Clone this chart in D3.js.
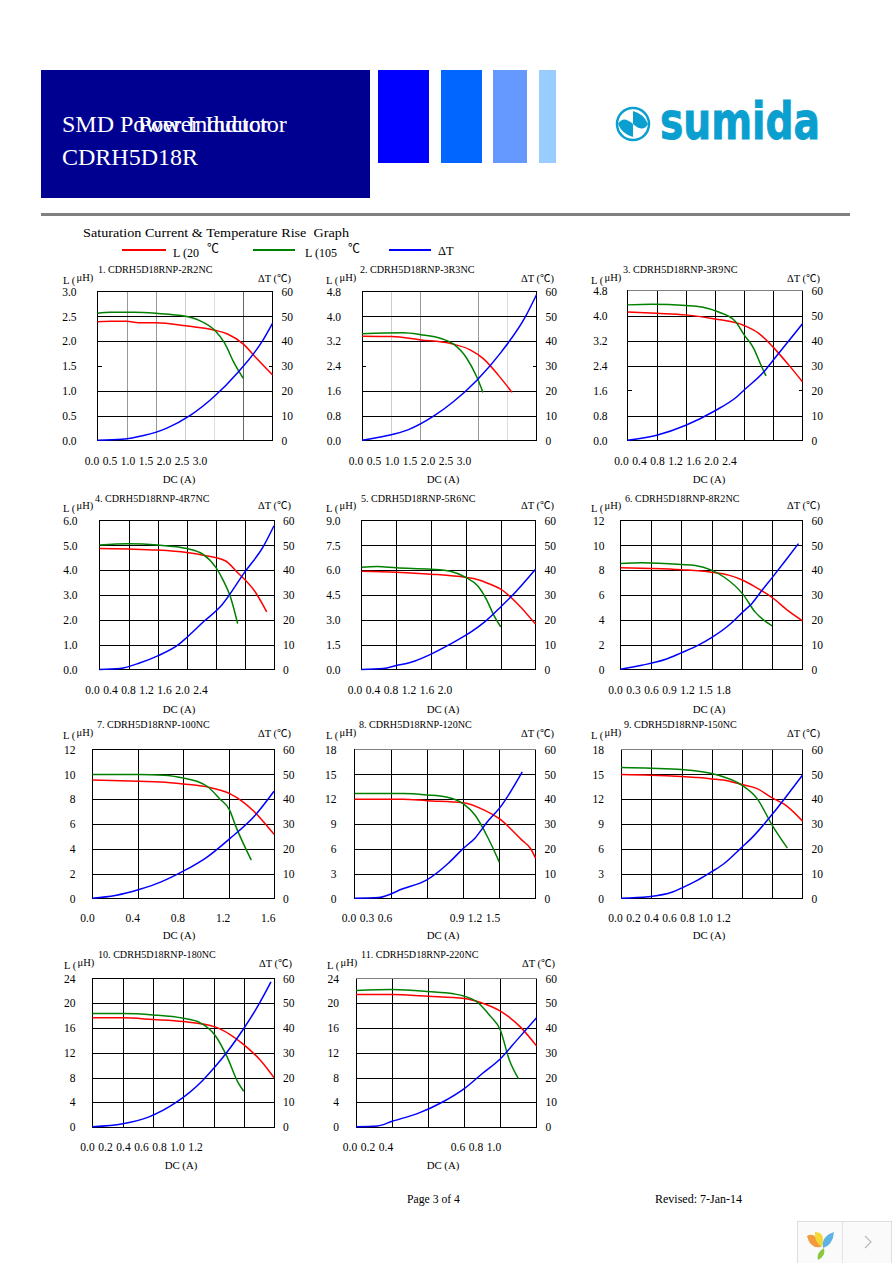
<!DOCTYPE html>
<html>
<head>
<meta charset="utf-8">
<title>CDRH5D18R</title>
<script src="https://cdn.jsdelivr.net/npm/d3@7"></script>
<style>
  html, body { margin: 0; padding: 0; background: #fff; }
  svg { display: block; }
  text { font-family: "Liberation Serif", "Noto Sans CJK SC", serif; fill: #000; }
  .domain { display: none; }
</style>
</head>
<body>
<svg></svg>
<script>
// values: [current A, value]
let titles = ['1. CDRH5D18RNP-2R2NC', '2. CDRH5D18RNP-3R3NC', '3. CDRH5D18RNP-3R9NC', '4. CDRH5D18RNP-4R7NC',
  '5. CDRH5D18RNP-5R6NC', '6. CDRH5D18RNP-8R2NC', '7. CDRH5D18RNP-100NC', '8. CDRH5D18RNP-120NC',
  '9. CDRH5D18RNP-150NC', '10. CDRH5D18RNP-180NC', '11. CDRH5D18RNP-220NC']

let xTicks = [
  [0, .5, 1, 1.5, 2, 2.5, 3], [0, .5, 1, 1.5, 2, 2.5, 3], [0, .4, .8, 1.2, 1.6, 2, 2.4], [0, .4, .8, 1.2, 1.6, 2, 2.4],
  [0, .4, .8, 1.2, 1.6, 2], [0, .3, .6, .9, 1.2, 1.5, 1.8], [0, .4, .8, 1.2, 1.6], [0, .3, .6, .9, 1.2, 1.5],
  [0, .2, .4, .6, .8, 1, 1.2], [0, .2, .4, .6, .8, 1, 1.2], [0, .2, .4, .6, .8, 1]
]
let yTicks = [
  [0, .5, 1, 1.5, 2, 2.5, 3], [0, .8, 1.6, 2.4, 3.2, 4, 4.8], [0, .8, 1.6, 2.4, 3.2, 4, 4.8], [0, 1, 2, 3, 4, 5, 6],
  [0, 1.5, 3, 4.5, 6, 7.5, 9], [0, 2, 4, 6, 8, 10, 12], [0, 2, 4, 6, 8, 10, 12], [0, 3, 6, 9, 12, 15, 18],
  [0, 3, 6, 9, 12, 15, 18], [0, 4, 8, 12, 16, 20, 24], [0, 4, 8, 12, 16, 20, 24]
]
let yDecimals = [1, 1, 1, 1, 1, 0, 0, 0, 0, 0, 0]
let tempTicks = [0, 10, 20, 30, 40, 50, 60]

let lowTemp = [
  [[0,2.39],[.22,2.40],[.5,2.40],[.7,2.37],[1,2.37],[1.51,2.31],[2.01,2.22],[2.22,2.15],[2.5,1.94],[2.73,1.65],[3,1.32]],
  [[0,3.36],[.51,3.35],[1.01,3.24],[1.51,3.13],[1.86,2.92],[2.09,2.63],[2.35,2.09],[2.58,1.55]],
  [[0,4.11],[.4,4.07],[.8,4.02],[1.2,3.89],[1.6,3.68],[1.8,3.43],[2,2.98],[2.21,2.42],[2.4,1.88]],
  [[0,4.87],[.4,4.85],[.8,4.81],[1.2,4.71],[1.43,4.6],[1.73,4.38],[1.89,3.93],[2.14,3.13],[2.3,2.32]],
  [[0,5.94],[.4,5.88],[.8,5.76],[1.2,5.56],[1.33,5.44],[1.48,5.15],[1.6,4.85],[1.79,3.99],[2,2.74]],
  [[0,8.19],[.3,8.13],[.6,8.03],[.9,7.84],[1.07,7.6],[1.21,7.19],[1.33,6.66],[1.5,5.8],[1.66,4.72],[1.8,3.92]],
  [[0,9.55],[.41,9.44],[.6,9.39],[.8,9.23],[1.01,8.99],[1.21,8.45],[1.32,7.83],[1.42,7.05],[1.6,5.17]],
  [[0,11.99],[.4,11.99],[.6,11.82],[.9,11.58],[1.08,10.65],[1.2,9.64],[1.39,7.02],[1.46,6.01],[1.5,4.88]],
  [[0,14.97],[.2,14.89],[.4,14.73],[.51,14.61],[.6,14.45],[.71,14.2],[.8,13.76],[.9,13.28],[1,12.15],[1.09,11.26],[1.2,9.36]],
  [[0,17.64],[.2,17.64],[.4,17.37],[.6,17.04],[.81,16.18],[.91,14.94],[1,13.32],[1.11,10.79],[1.2,7.98]],
  [[0,21.41],[.2,21.41],[.4,21.14],[.6,20.77],[.69,20.12],[.8,18.72],[.91,16.18],[1,13.11]]
]
let highTemp = [
  [[0,2.56],[.22,2.58],[.62,2.58],[1,2.56],[1.51,2.5],[1.76,2.41],[2.01,2.22],[2.18,1.96],[2.33,1.59],[2.5,1.25]],
  [[0,3.44],[.71,3.47],[1.01,3.41],[1.37,3.28],[1.57,3.11],[1.8,2.65],[1.97,2.06],[2.08,1.55]],
  [[0,4.34],[.33,4.36],[.8,4.32],[1.02,4.27],[1.25,4.11],[1.48,3.81],[1.6,3.38],[1.73,2.95],[1.84,2.36],[1.9,2.07]],
  [[0,5.01],[.4,5.06],[.8,5.01],[1.2,4.87],[1.43,4.63],[1.6,4.11],[1.7,3.6],[1.8,2.93],[1.9,1.85]],
  [[0,6.18],[.18,6.22],[.4,6.14],[.8,6.06],[1.02,5.94],[1.2,5.56],[1.34,5.03],[1.44,4.19],[1.52,3.28],[1.6,2.58]],
  [[0,8.54],[.21,8.59],[.6,8.46],[.74,8.38],[.9,8],[1.03,7.41],[1.21,6.07],[1.33,4.64],[1.5,3.52]],
  [[0,9.98],[.41,9.98],[.63,9.93],[.8,9.71],[.92,9.44],[1.01,9.04],[1.12,8.04],[1.21,7.1],[1.26,5.89],[1.4,3.09]],
  [[0,12.67],[.4,12.67],[.6,12.51],[.76,12.27],[.9,11.46],[1,10.05],[1.11,7.22],[1.2,4.4]],
  [[0,15.82],[.2,15.74],[.4,15.58],[.6,15.09],[.69,14.61],[.8,13.68],[.9,12.07],[1,8.84],[1.1,6.09]],
  [[0,18.34],[.2,18.34],[.4,18.12],[.6,17.58],[.71,16.88],[.81,14.83],[.89,11.33],[.96,7.3],[1,5.77]],
  [[0,22.06],[.2,22.22],[.4,21.9],[.54,21.52],[.6,21.14],[.67,20.23],[.74,18.07],[.8,15.64],[.85,10.79],[.9,7.82]]
]
let tempRise = [
  [[0,.1],[.42,.5],[.79,2],[1.19,5],[1.59,10.1],[2.01,17.9],[2.39,27],[2.82,39.8],[3,47.2]],
  [[0,.1],[.42,1.9],[.8,4.4],[1.23,9.8],[1.57,15.6],[1.98,24.4],[2.4,35.8],[2.81,49.9],[3,58.7]],
  [[0,.1],[.4,2.1],[.8,6.1],[1.2,11.9],[1.5,17.5],[1.6,20.2],[1.87,27.5],[2,32.2],[2.4,46.7]],
  [[0,0],[.28,.4],[.56,2.7],[.8,5.5],[1.09,10.1],[1.2,12.9],[1.43,19.2],[1.68,25.9],[2,39.3],[2.25,49.4],[2.4,57.9]],
  [[0,0],[.25,.4],[.4,1.6],[.56,2.8],[.8,6.2],[1.02,10.2],[1.2,13.8],[1.44,19.9],[1.6,25.2],[1.73,29.7],[2,40.4]],
  [[0,.1],[.21,1.7],[.44,4],[.6,6.7],[.77,9.8],[.9,12.8],[1.1,18.8],[1.21,23.2],[1.3,26.6],[1.4,31.9],[1.5,37],[1.63,43.8],[1.76,50.7]],
  [[0,.1],[.2,1.2],[.41,3.6],[.6,6.6],[.8,11],[1.01,16.7],[1.21,24.1],[1.42,32.8],[1.6,43.2]],
  [[0,.1],[.2,.4],[.4,3.9],[.6,7.5],[.78,14.3],[.9,20.1],[1,24.4],[1.1,30.8],[1.21,36.9],[1.39,51]],
  [[0,.1],[.18,.7],[.34,2.6],[.4,4.2],[.51,7.5],[.6,10.8],[.68,14],[.8,20.7],[.86,24.1],[1,33.9],[1.09,40.9],[1.2,49.7]],
  [[0,.1],[.2,1.3],[.37,4],[.55,9.8],[.73,18.9],[.81,24.3],[.89,30.3],[1,39.8],[1.09,48.5],[1.18,58.6]],
  [[0,.1],[.12,.4],[.2,2.3],[.35,5.7],[.48,10.1],[.6,15.5],[.7,21.6],[.8,27.6],[.89,35],[1,44.1]]
]

// page layout of the plots
let layout = [
  { l: 97.5, r: 272.5, t: 291.5, b: 440.5, gap: 21, title: [98, 273], unitL: [63, 284], unitR: [258, 282], tick: [92, 18, 464.5], dc: [179, 483] },
  { l: 362, r: 536.5, t: 291.5, b: 440.5, gap: 21, title: [360, 273], unitL: [326, 284], unitR: [521, 282], tick: [356, 18, 464.5], dc: [443, 483] },
  { l: 627.5, r: 802.5, t: 290.5, b: 440.5, gap: 20, title: [623, 273], unitL: [591, 284], unitR: [787, 282], tick: [621.5, 18, 464.5], dc: [709, 483] },
  { l: 99.5, r: 274, t: 520.5, b: 669.5, gap: 22, title: [95, 502], unitL: [63, 512], unitR: [258, 509], tick: [92.5, 18, 693.5], dc: [179, 713] },
  { l: 361.5, r: 535.5, t: 520.5, b: 669.5, gap: 21, title: [361, 502], unitL: [326, 512], unitR: [521, 509], tick: [355, 18, 693.5], dc: [443, 713] },
  { l: 620.5, r: 802.5, t: 520.5, b: 669.5, gap: 16, title: [625, 502], unitL: [591, 512], unitR: [787, 509], tick: [615.5, 18, 693.5], dc: [709, 713] },
  { l: 92.5, r: 274, t: 749.5, b: 898.5, gap: 17, title: [97, 728], unitL: [63, 739], unitR: [258, 737], tick: [87.5, 45.2, 922], dc: [179, 939] },
  { l: 354.5, r: 535.5, t: 749.5, b: 898.5, gap: 18, title: [359, 728], unitL: [326, 739], unitR: [521, 737], tick: [349, 18, 922], dc: [443, 939], slots: [0, 1, 2, 6, 7, 8] },
  { l: 621, r: 802.5, t: 749.5, b: 898.5, gap: 17, title: [624, 728], unitL: [591, 739], unitR: [787, 737], tick: [615.5, 18, 922], dc: [709, 939] },
  { l: 92.5, r: 274, t: 978.5, b: 1127, gap: 17, title: [98, 958], unitL: [64, 969], unitR: [259, 967], tick: [87.5, 18, 1151], dc: [181, 1169] },
  { l: 356, r: 536.5, t: 978.5, b: 1127, gap: 17, title: [361, 958], unitL: [327, 969], unitR: [522, 967], tick: [350, 18, 1151], dc: [443, 1169], slots: [0, 1, 2, 6, 7, 8] }
]

// scan artefacts: gridlines that came out faded or vanished
let gridFade = { 0: ['#999', '#999', '#ccc', '#ddd', '#666'], 1: ['#ccc', '#999', 'none', '#999', '#ddd'] }
let gridSkip = { 0: 1.5, 1: 2.4, 2: 1.6 }
let greyTop = [2, 7, 8, 10]

let w = 892
let h = 1263
let svg = d3.select('svg').attr('width', w).attr('height', h).attr('viewBox', `0 0 ${w} ${h}`)

let text = (x, y, str, size, anchor) => svg.append('text')
  .attr('x', x).attr('y', y).attr('font-size', size).attr('text-anchor', anchor || 'start').text(str)

let drawHeader = () => {
  let boxes = [[41, 70, 329, 128, '#000090'], [378, 70, 51, 93, '#0000ff'], [441, 70, 41, 93, '#0066ff'],
    [493, 70, 34, 93, '#6699ff'], [539, 70, 17, 93, '#99ccff'], [41, 213, 809, 3, '#808080']]
  svg.selectAll('rect.head').data(boxes).enter().append('rect').attr('class', 'head')
     .attr('x', d => d[0]).attr('y', d => d[1]).attr('width', d => d[2]).attr('height', d => d[3]).attr('fill', d => d[4])

  text(62, 132, 'SMD Power Inductor', 24).style('fill', '#fff')
  text(138, 132, 'Power Inductor', 24).style('fill', '#fff')
  text(62, 165, 'CDRH5D18R', 24).style('fill', '#fff')

  // logo
  let blue = '#0b9fd0'
  svg.append('circle').attr('cx', 633).attr('cy', 124).attr('r', 16).attr('fill', 'none').attr('stroke', blue).attr('stroke-width', 2.5)
  let blades = ['M633 109 Q642 114 633 124 L620 124 Q624 113 633 109 Z', 'M648 124 Q643 133 633 124 L633 111 Q644 114 648 124 Z',
    'M633 139 Q624 134 633 124 L646 124 Q642 135 633 139 Z', 'M618 124 Q623 115 633 124 L633 137 Q622 134 618 124 Z']
  svg.selectAll('path.blade').data(blades).enter().append('path').attr('class', 'blade').attr('d', d => d)
     .attr('fill', blue).attr('fill-opacity', (d, n) => n % 2 ? 1 : 0)
  text(660, 139, 'sumida', 52).attr('textLength', 160).attr('lengthAdjust', 'spacingAndGlyphs')
     .style('font-family', '"DejaVu Sans"').style('font-weight', 'bold').style('fill', blue)
     .style('stroke', blue).style('stroke-width', 1)
}

let drawLegend = () => {
  text(83, 237, 'Saturation Current & Temperature Rise  Graph', 13)
     .style('white-space', 'pre').attr('textLength', 266).attr('lengthAdjust', 'spacingAndGlyphs')
  let items = [[122, 166, '#ff0000'], [253, 295, '#008000'], [389, 431, '#0000ff']]
  svg.selectAll('line.key').data(items).enter().append('line').attr('class', 'key')
     .attr('x1', d => d[0]).attr('x2', d => d[1]).attr('y1', 250).attr('y2', 250)
     .attr('stroke', d => d[2]).attr('stroke-width', 1.8)
  text(173, 257, 'L (20', 12)
  text(207, 253, '℃', 12)
  text(305, 257, 'L (105', 12)
  text(348, 253, '℃', 12)
  text(438, 255, 'ΔT', 12.5)
}

let drawChart = (i) => {
  let p = layout[i]
  let xMax = d3.max(xTicks[i])
  let yMax = d3.max(yTicks[i])
  let xScale = d3.scaleLinear().domain([0, xMax]).range([p.l, p.r])
  let yScale = d3.scaleLinear().domain([0, yMax]).range([p.b, p.t])
  let tScale = d3.scaleLinear().domain([0, 60]).range([p.b, p.t])
  let g = svg.append('g').attr('class', 'chart')

  // vertical grid
  let xGrid = d3.axisBottom(xScale).tickValues(xTicks[i].slice(1, -1)).tickSize(p.t - p.b).tickFormat('')
  let vg = g.append('g').attr('transform', `translate(0,${p.b})`).call(xGrid)
  vg.selectAll('.tick line').attr('stroke', (d, n) => gridFade[i] ? gridFade[i][n] : '#000')
    .attr('shape-rendering', 'crispEdges')

  // horizontal grid, drawn off the right axis
  let yGrid = d3.axisLeft(yScale).tickValues(yTicks[i].slice(1, -1).filter(d => d !== gridSkip[i])).tickSize(p.l - p.r).tickFormat('')
  g.append('g').attr('transform', `translate(${p.l},0)`).call(yGrid)
   .selectAll('.tick line').attr('stroke', '#000').attr('shape-rendering', 'crispEdges')

  // short stubs where a gridline is missing
  if (gridSkip[i] !== undefined) {
    let y0 = yScale(gridSkip[i])
    g.selectAll('line.stub').data([[p.l, p.l + 4], [p.r - 4, p.r]]).enter().append('line').attr('class', 'stub')
     .attr('x1', d => d[0]).attr('x2', d => d[1]).attr('y1', y0).attr('y2', y0)
     .attr('stroke', '#000').attr('shape-rendering', 'crispEdges')
  }

  g.append('rect').attr('x', p.l).attr('y', p.t).attr('width', p.r - p.l).attr('height', p.b - p.t)
   .attr('fill', 'none').attr('stroke', '#000').attr('shape-rendering', 'crispEdges')
  if (greyTop.includes(i)) {
    g.append('line').attr('x1', p.l).attr('x2', p.r).attr('y1', p.t).attr('y2', p.t)
     .attr('stroke', '#808080').attr('shape-rendering', 'crispEdges')
  }

  // left and right value labels
  let fmt = d3.format('.' + yDecimals[i] + 'f')
  let left = g.append('g').attr('transform', `translate(${p.l},0)`)
    .call(d3.axisLeft(yScale).tickValues(yTicks[i]).tickSize(0).tickPadding(p.gap).tickFormat(fmt))
  let right = g.append('g').attr('transform', `translate(${p.r},0)`)
    .call(d3.axisRight(tScale).tickValues(tempTicks).tickSize(0).tickPadding(9).tickFormat(d3.format('d')))
  left.attr('font-family', null).attr('font-size', null).selectAll('text').attr('font-size', 11.5)
  right.attr('font-family', null).attr('font-size', null).selectAll('text').attr('font-size', 11.5)

  // current labels sit bunched to the left, as on the original sheet
  let slots = p.slots || xTicks[i].map((d, n) => n)
  let labelX = d3.scaleLinear().domain([0, 1]).range([p.tick[0], p.tick[0] + p.tick[1]])
  g.selectAll('text.xlabel').data(xTicks[i]).enter().append('text').attr('class', 'xlabel')
   .attr('x', (d, n) => labelX(slots[n])).attr('y', p.tick[2])
   .attr('text-anchor', 'middle').attr('font-size', 11.5).text(d => d3.format('.1f')(d))

  // curves
  let line = (sy) => d3.line().x(d => xScale(d[0])).y(d => sy(d[1])).curve(d3.curveMonotoneX)
  let curves = [[lowTemp[i], yScale, '#ff0000'], [highTemp[i], yScale, '#008000'], [tempRise[i], tScale, '#0000ff']]
  g.selectAll('path.curve').data(curves).enter().append('path').attr('class', 'curve')
   .attr('d', d => line(d[1])(d[0])).attr('fill', 'none').attr('stroke', d => d[2]).attr('stroke-width', 1.5)

  text(p.title[0], p.title[1], titles[i], 10.1)
  text(p.unitL[0], p.unitL[1], 'L (', 10.5)
  text(p.unitL[0] + 13.5, p.unitL[1] - 3, 'μH)', 10.5)
  text(p.unitR[0], p.unitR[1], 'ΔT (℃)', 10.5)
  text(p.dc[0], p.dc[1], 'DC (A)', 10.8, 'middle')
}

let drawFooter = () => {
  text(407, 1203, 'Page 3 of 4', 11.7)
  text(655, 1203, 'Revised: 7-Jan-14', 12)

  // viewer widget in the corner of the scan
  svg.append('rect').attr('x', 797.5).attr('y', 1221.5).attr('width', 94).attr('height', 42)
     .attr('fill', '#fafafa').attr('stroke', '#dedede')
  svg.append('line').attr('x1', 842.5).attr('x2', 842.5).attr('y1', 1221).attr('y2', 1263).attr('stroke', '#e4e4e4')
  let petals = [['M807 1236 Q816 1231 821 1247 Q810 1249 807 1236 Z', '#f39a3c'], ['M815 1232 Q826 1232 822 1247 Q814 1242 815 1232 Z', '#f4d83a'],
    ['M834 1232 Q833 1245 823 1248 Q821 1236 834 1232 Z', '#5fb2e6'], ['M824 1248 Q826 1256 818 1260 Q816 1253 824 1248 Z', '#8cc63f']]
  svg.selectAll('path.petal').data(petals).enter().append('path').attr('class', 'petal').attr('d', d => d[0]).attr('fill', d => d[1])
  svg.append('path').attr('d', 'M865 1236 L871 1242 L865 1248').attr('fill', 'none').attr('stroke', '#bbb').attr('stroke-width', 1.2)
}

drawHeader()
drawLegend()
titles.forEach((t, i) => drawChart(i))
drawFooter()
</script>
</body>
</html>
